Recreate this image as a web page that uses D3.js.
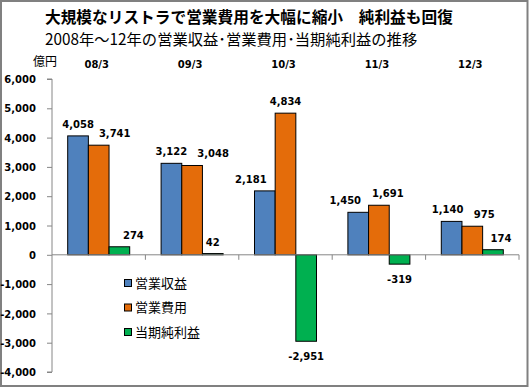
<!DOCTYPE html>
<html><head><meta charset="utf-8">
<script src="https://cdn.jsdelivr.net/npm/d3@7"></script>
<style>body{margin:0;background:#fff}svg{display:block}</style>
</head><body>
<script>
const categories = ["08/3","09/3","10/3","11/3","12/3"];
const seriesNames = ["営業収益","営業費用","当期純利益"];
const revenue = [4058, 3122, 2181, 1450, 1140];
const expenses = [3741, 3048, 4834, 1691, 975];
const netIncome = [274, 42, -2951, -319, 174];
const yTicks = [-4000,-3000,-2000,-1000,0,1000,2000,3000,4000,5000,6000];
const colors = ["#4F81BD","#E46C0A","#00B050"];
// label horizontal nudges (avoid overlaps, like the original)
const labelDx = [[0,16,14],[0,21,0],[-14,0,0],[-13,9,0],[-4,12,8]];

const fmt = v => d3.format(",")(v).replace("\u2212","-");
const W=529,H=388;
const svg=d3.select("body").append("svg").attr("width",W).attr("height",H);
svg.append("rect").attr("x",1).attr("y",1).attr("width",W-2.5).attr("height",H-3)
  .attr("fill","#fff").attr("stroke","#808080").attr("stroke-width",2);

const cjk="'Noto Sans CJK JP','Noto Sans',sans-serif";
svg.append("text").attr("x",45).attr("y",22.5).attr("font-family",cjk).attr("font-weight","bold")
  .attr("font-size",15.7).attr("fill","#000").text("大規模なリストラで営業費用を大幅に縮小　純利益も回復");
svg.append("text").attr("x",45).attr("y",45).attr("font-family",cjk)
  .attr("font-size",15.3).attr("fill","#000").text("2008年～12年の営業収益･営業費用･当期純利益の推移");

const x=d3.scaleBand().domain(categories).range([52,519]);
const x1=d3.scaleBand().domain(seriesNames).range([15.7,77.7]);
const y=d3.scaleLinear().domain([-4000,6000]).range([372,79]);

const num="'DejaVu Sans',sans-serif";
// y axis
const yAxis=svg.append("g").attr("transform","translate(52,0)")
  .call(d3.axisLeft(y).tickValues(yTicks).tickSize(5).tickPadding(11).tickFormat(fmt));
yAxis.select(".domain").attr("stroke","#868686").attr("d","M0,"+y(-4000)+"V"+y(6000)+"M-5,"+y(6000)+"H0M-5,"+y(-4000)+"H0");
yAxis.selectAll(".tick line").attr("stroke","#868686");
yAxis.selectAll(".tick text").attr("font-family",num).attr("font-weight","bold").attr("font-size",10).attr("fill","#000")
  .attr("dy","0.36em");

svg.append("text").attr("x",33).attr("y",66).attr("font-family",cjk).attr("font-size",12).attr("fill","#000").text("億円");

// category labels
svg.selectAll(".cat").data(categories).enter().append("text")
  .attr("x",d=>x(d)+x.bandwidth()/2-2).attr("y",67.5).attr("text-anchor","middle")
  .attr("font-family",num).attr("font-weight","bold").attr("font-size",10).attr("fill","#000").text(d=>d);

// bars
const data=categories.map((c,i)=>({c,vals:[revenue[i],expenses[i],netIncome[i]],i}));
const groups=svg.selectAll(".g").data(data).enter().append("g").attr("transform",d=>`translate(${x(d.c)},0)`);
groups.selectAll("rect").data(d=>d.vals.map((v,j)=>({v,j}))).enter().append("rect")
  .attr("x",d=>x1(seriesNames[d.j])).attr("width",x1.bandwidth())
  .attr("y",d=>y(Math.max(0,d.v))).attr("height",d=>Math.abs(y(d.v)-y(0)))
  .attr("fill",d=>colors[d.j]).attr("stroke","#000").attr("stroke-width",1);

// zero axis
svg.append("line").attr("x1",52).attr("x2",519).attr("y1",y(0)).attr("y2",y(0)).attr("stroke","#868686");
svg.selectAll(".xt").data(categories).enter().append("line")
  .attr("x1",d=>x(d)+x.bandwidth()).attr("x2",d=>x(d)+x.bandwidth())
  .attr("y1",y(0)).attr("y2",y(0)+5).attr("stroke","#868686");

// value labels
groups.selectAll(".lbl").data(d=>d.vals.map((v,j)=>({v,j,i:d.i}))).enter().append("text")
  .attr("x",d=>x1(seriesNames[d.j])+x1.bandwidth()/2+labelDx[d.i][d.j])
  .attr("y",d=>d.v>=0?y(d.v)-8:y(d.v)+19).attr("text-anchor","middle")
  .attr("font-family",num).attr("font-weight","bold").attr("font-size",10).attr("fill","#000")
  .text(d=>fmt(d.v));

// legend
const lg=svg.selectAll(".lg").data(seriesNames).enter().append("g")
  .attr("transform",(d,i)=>`translate(124,${283+i*24.5})`);
lg.append("rect").attr("x",0.5).attr("y",-3.5).attr("width",7).attr("height",7)
  .attr("fill",(d,i)=>colors[i]).attr("stroke","#000").attr("stroke-width",1);
lg.append("text").attr("x",11).attr("y",0).attr("dy","0.36em").attr("font-family",cjk)
  .attr("font-size",13).attr("fill","#000").text(d=>d);
</script>
</body></html>
